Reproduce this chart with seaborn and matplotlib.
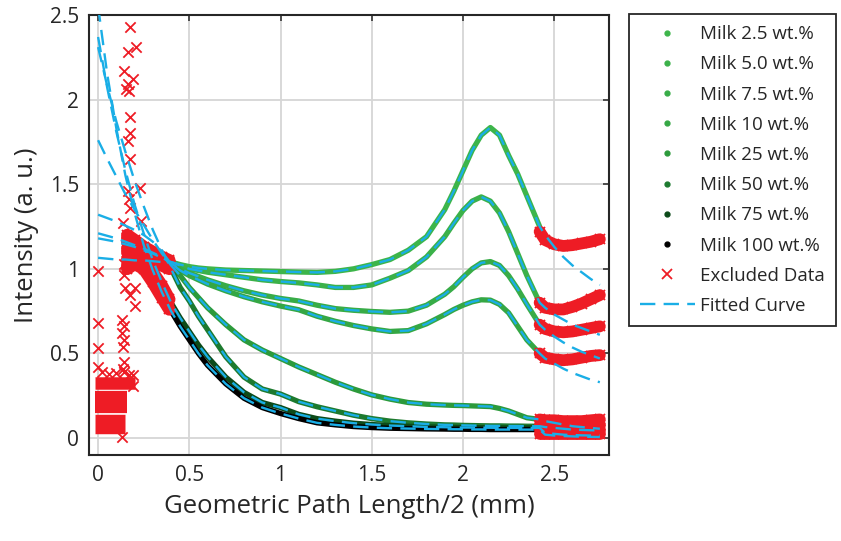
import numpy as np
import pandas as pd
import matplotlib
matplotlib.use("Agg")
import matplotlib.pyplot as plt
from matplotlib.lines import Line2D
import seaborn as sns

# ---------------- data ----------------
labels = ["Milk 2.5 wt.%", "Milk 5.0 wt.%", "Milk 7.5 wt.%", "Milk 10 wt.%",
          "Milk 25 wt.%", "Milk 50 wt.%", "Milk 75 wt.%", "Milk 100 wt.%"]
colors = ["#3db54a", "#3bb149", "#38ac47", "#35a744",
          "#2c9a3b", "#1d7a2f", "#0c4a19", "#000000"]

# measured intensity (included region)
data_x = [0.40, 0.45, 0.50, 0.55, 0.60, 0.70, 0.80, 0.90, 1.00, 1.10, 1.20, 1.30, 1.40, 1.50,
          1.60, 1.70, 1.80, 1.90, 1.95, 2.00, 2.05, 2.10, 2.15, 2.20, 2.25, 2.30, 2.35, 2.42]
milk_25 = [1.04, 1.025, 1.013, 1.005, 1.0, 0.993, 0.99, 0.987, 0.984, 0.981, 0.979, 0.985, 1.0, 1.025,
           1.055, 1.11, 1.19, 1.35, 1.46, 1.58, 1.70, 1.79, 1.835, 1.79, 1.67, 1.56, 1.43, 1.25]
milk_50 = [1.04, 1.02, 1.0, 0.99, 0.98, 0.965, 0.95, 0.935, 0.925, 0.917, 0.905, 0.89, 0.89, 0.905,
           0.945, 0.99, 1.07, 1.19, 1.27, 1.345, 1.40, 1.425, 1.40, 1.33, 1.22, 1.09, 0.96, 0.80]
milk_75 = [1.03, 1.0, 0.975, 0.955, 0.935, 0.90, 0.87, 0.845, 0.825, 0.81, 0.785, 0.765, 0.755, 0.748,
           0.743, 0.75, 0.785, 0.85, 0.895, 0.95, 1.0, 1.035, 1.043, 1.02, 0.96, 0.88, 0.79, 0.67]
milk_100 = [1.03, 0.99, 0.96, 0.935, 0.91, 0.87, 0.835, 0.805, 0.78, 0.758, 0.72, 0.69, 0.665, 0.645,
            0.63, 0.635, 0.675, 0.73, 0.76, 0.785, 0.805, 0.817, 0.815, 0.79, 0.74, 0.66, 0.58, 0.50]
milk_250 = [1.02, 0.96, 0.89, 0.83, 0.77, 0.67, 0.58, 0.52, 0.47, 0.42, 0.375, 0.33, 0.29, 0.255,
            0.23, 0.21, 0.20, 0.195, 0.193, 0.192, 0.19, 0.188, 0.186, 0.175, 0.16, 0.14, 0.12, 0.11]
milk_500 = [1.0, 0.89, 0.81, 0.72, 0.64, 0.48, 0.36, 0.29, 0.26, 0.215, 0.185, 0.16, 0.135, 0.115,
            0.10, 0.09, 0.083, 0.078, 0.077, 0.075, 0.074, 0.073, 0.072, 0.072, 0.071, 0.071, 0.07, 0.07]
milk_750 = [0.80, 0.71, 0.63, 0.55, 0.48, 0.36, 0.27, 0.21, 0.18, 0.14, 0.115, 0.10, 0.088, 0.08,
            0.074, 0.07, 0.066, 0.064, 0.063, 0.062, 0.062, 0.061, 0.061, 0.06, 0.06, 0.06, 0.06, 0.06]
milk_1000 = [0.75, 0.66, 0.58, 0.50, 0.43, 0.32, 0.235, 0.18, 0.145, 0.115, 0.09, 0.078, 0.068, 0.062,
             0.058, 0.056, 0.054, 0.053, 0.052, 0.052, 0.051, 0.051, 0.05, 0.05, 0.05, 0.05, 0.05, 0.05]
series = [milk_25, milk_50, milk_75, milk_100, milk_250, milk_500, milk_750, milk_1000]

# fitted model before and after the included region
fit_head_x = [0.0, 0.05, 0.10, 0.15, 0.20, 0.25, 0.30, 0.35]
fit_head = [
    [1.065, 1.06, 1.055, 1.055, 1.05, 1.05, 1.045, 1.04],
    [1.18, 1.17, 1.16, 1.145, 1.13, 1.11, 1.09, 1.065],
    [1.21, 1.195, 1.18, 1.16, 1.14, 1.12, 1.095, 1.07],
    [1.32, 1.30, 1.28, 1.255, 1.23, 1.20, 1.16, 1.10],
    [1.76, 1.65, 1.545, 1.44, 1.35, 1.26, 1.17, 1.09],
    [2.31, 2.08, 1.87, 1.69, 1.52, 1.37, 1.23, 1.11],
    [2.37, 2.07, 1.81, 1.58, 1.38, 1.21, 1.05, 0.92],
    [2.55, 2.15, 1.83, 1.55, 1.33, 1.14, 0.99, 0.86],
]
fit_tail_x = [2.45, 2.50, 2.55, 2.60, 2.65, 2.70, 2.75]
fit_tail = [
    [1.20, 1.13, 1.07, 1.02, 0.98, 0.94, 0.905],
    [0.77, 0.73, 0.70, 0.67, 0.65, 0.63, 0.61],
    [0.64, 0.60, 0.565, 0.535, 0.51, 0.49, 0.47],
    [0.47, 0.44, 0.41, 0.385, 0.365, 0.345, 0.33],
    [0.10, 0.09, 0.08, 0.07, 0.065, 0.06, 0.055],
    [0.065, 0.06, 0.055, 0.05, 0.048, 0.046, 0.045],
    [0.03, 0.025, 0.02, 0.018, 0.016, 0.015, 0.014],
    [0.02, 0.015, 0.012, 0.01, 0.008, 0.007, 0.006],
]

# excluded measurements: start-up region and end region of each series
ex_head_x = [0.16, 0.20, 0.25, 0.30, 0.35, 0.39]
ex_head = [
    [1.20, 1.17, 1.13, 1.10, 1.07, 1.05],
    [1.16, 1.15, 1.12, 1.09, 1.06, 1.045],
    [1.10, 1.11, 1.10, 1.08, 1.06, 1.04],
    [1.02, 1.04, 1.06, 1.06, 1.05, 1.035],
    [1.18, 1.16, 1.12, 1.08, 1.05, 1.02],
    [1.12, 1.12, 1.09, 1.05, 1.02, 1.0],
    [1.06, 1.08, 1.05, 0.98, 0.90, 0.82],
    [1.00, 1.03, 1.00, 0.92, 0.83, 0.76],
]
ex_tail_x = [2.42, 2.45, 2.50, 2.55, 2.60, 2.65, 2.70, 2.75]
ex_tail = [
    [1.22, 1.17, 1.145, 1.135, 1.14, 1.15, 1.16, 1.175],
    [0.80, 0.77, 0.76, 0.76, 0.775, 0.795, 0.82, 0.845],
    [0.67, 0.645, 0.63, 0.625, 0.63, 0.64, 0.65, 0.66],
    [0.50, 0.475, 0.465, 0.46, 0.465, 0.475, 0.485, 0.49],
    [0.11, 0.105, 0.105, 0.10, 0.10, 0.10, 0.105, 0.11],
    [0.075, 0.075, 0.075, 0.075, 0.075, 0.075, 0.075, 0.075],
    [0.05, 0.05, 0.05, 0.05, 0.05, 0.05, 0.05, 0.05],
    [0.025, 0.025, 0.025, 0.025, 0.025, 0.025, 0.025, 0.025],
]
# dense low-intensity start-up block (level, x from, x to, stroke width in pt)
block_y = [0.325, 0.215, 0.085]
block_x0 = [-0.015, -0.015, -0.015]
block_x1 = [0.20, 0.16, 0.15]
block_w = [9.0, 16.0, 14.0]
# isolated excluded points
ex_pts_x = [0.175, 0.164, 0.208, 0.142, 0.19, 0.165, 0.17, 0.155, 0.175, 0.175, 0.165, 0.175,
            0.23, 0.165, 0.17, 0.175, 0.235, 0.137, 0.0, 0.14, 0.14, 0.148, 0.2, 0.175, 0.2,
            0.0, 0.13, 0.14, 0.13, 0.14, 0.135, 0.0, 0.193, 0.14, 0.135, 0.0, 0.02, 0.06,
            0.1, 0.14, 0.17, 0.19, 0.13]
ex_pts_y = [2.43, 2.28, 2.31, 2.17, 2.12, 2.09, 2.05, 2.06, 1.90, 1.80, 1.755, 1.65,
            1.48, 1.46, 1.41, 1.36, 1.28, 1.27, 0.99, 1.03, 0.965, 0.886, 0.886, 0.847, 0.778,
            0.68, 0.70, 0.66, 0.62, 0.58, 0.54, 0.53, 0.375, 0.45, 0.41, 0.42, 0.39, 0.38,
            0.385, 0.39, 0.37, 0.31, 0.005]

# ---------------- style ----------------
sns.set_theme(style="white")
plt.rcParams["font.family"] = ["Open Sans", "DejaVu Sans"]
plt.rcParams["xtick.direction"] = "in"
plt.rcParams["ytick.direction"] = "in"

red = "#ee1c25"
blue = "#1aaee6"
dash = (0, (6.5, 3.5))

fig = plt.figure(figsize=(8.41, 5.41), dpi=100)
ax = fig.add_axes([0.1058, 0.159, 0.6183, 0.8133])

# measured curves
for vals, c in zip(series, colors):
    sns.lineplot(x=data_x, y=vals, color=c, lw=3.8, ax=ax, sort=False,
                 estimator=None, zorder=3, legend=False)

# excluded data
for y0, xa, xb, lw in zip(block_y, block_x0, block_x1, block_w):
    ax.plot([xa, xb], [y0, y0], color=red, lw=lw, solid_capstyle="butt", zorder=4)
for ys in ex_head:
    sns.lineplot(x=ex_head_x, y=ys, color=red, lw=9, ax=ax, sort=False, estimator=None,
                 marker="x", markersize=7, markeredgewidth=1.3, markeredgecolor=red,
                 zorder=4, legend=False)
for ys in ex_tail:
    sns.lineplot(x=ex_tail_x, y=ys, color=red, lw=8.5, ax=ax, sort=False, estimator=None,
                 marker="x", markersize=7, markeredgewidth=1.3, markeredgecolor=red,
                 zorder=4, legend=False)
sns.scatterplot(x=ex_pts_x, y=ex_pts_y, color=red, marker="x", s=55, linewidth=1.3,
                ax=ax, zorder=4, legend=False)

# fitted curves
for k in range(len(series)):
    fx = fit_head_x + data_x + fit_tail_x
    fy = fit_head[k] + series[k] + fit_tail[k]
    sns.lineplot(x=fx, y=fy, color=blue, lw=1.7, ax=ax, sort=False, estimator=None,
                 linestyle=dash, zorder=5, legend=False)

# axes
ax.set_xlim(-0.05, 2.8)
ax.set_ylim(-0.1, 2.5)
ax.set_xticks([0, 0.5, 1, 1.5, 2, 2.5])
ax.set_xticklabels(["0", "0.5", "1", "1.5", "2", "2.5"])
ax.set_yticks([0, 0.5, 1, 1.5, 2, 2.5])
ax.set_yticklabels(["0", "0.5", "1", "1.5", "2", "2.5"])
ax.tick_params(axis="both", which="both", direction="in", length=4, width=1.1,
               top=True, right=True, labelsize=15, colors="#262626", pad=7)
ax.grid(True, color="#d6d6d6", lw=1.3)
ax.set_axisbelow(True)
for s in ax.spines.values():
    s.set_color("#262626")
    s.set_linewidth(1.5)
ax.set_xlabel("Geometric Path Length/2 (mm)", fontsize=18.5, color="#262626", labelpad=6)
ax.set_ylabel("Intensity (a. u.)", fontsize=18.5, color="#262626", labelpad=8)

# legend
handles = [Line2D([], [], ls="none", marker="o", markersize=3.5, color=c) for c in colors]
handles.append(Line2D([], [], ls="none", marker="x", markersize=7, markeredgewidth=1.3, color=red))
handles.append(Line2D([], [], color=blue, lw=1.7, ls=dash))
leg = fig.legend(handles, labels + ["Excluded Data", "Fitted Curve"],
                 loc="upper left", bbox_to_anchor=(629 / 841, 1 - 14 / 541),
                 fontsize=13.5, frameon=True, fancybox=False, framealpha=1,
                 edgecolor="#262626", handlelength=2.9, handletextpad=0.3,
                 labelspacing=0.65, borderpad=0.6, borderaxespad=0)
leg.get_frame().set_linewidth(1.3)
for t in leg.get_texts():
    t.set_color("#262626")

fig.savefig("out.png", dpi=100)
